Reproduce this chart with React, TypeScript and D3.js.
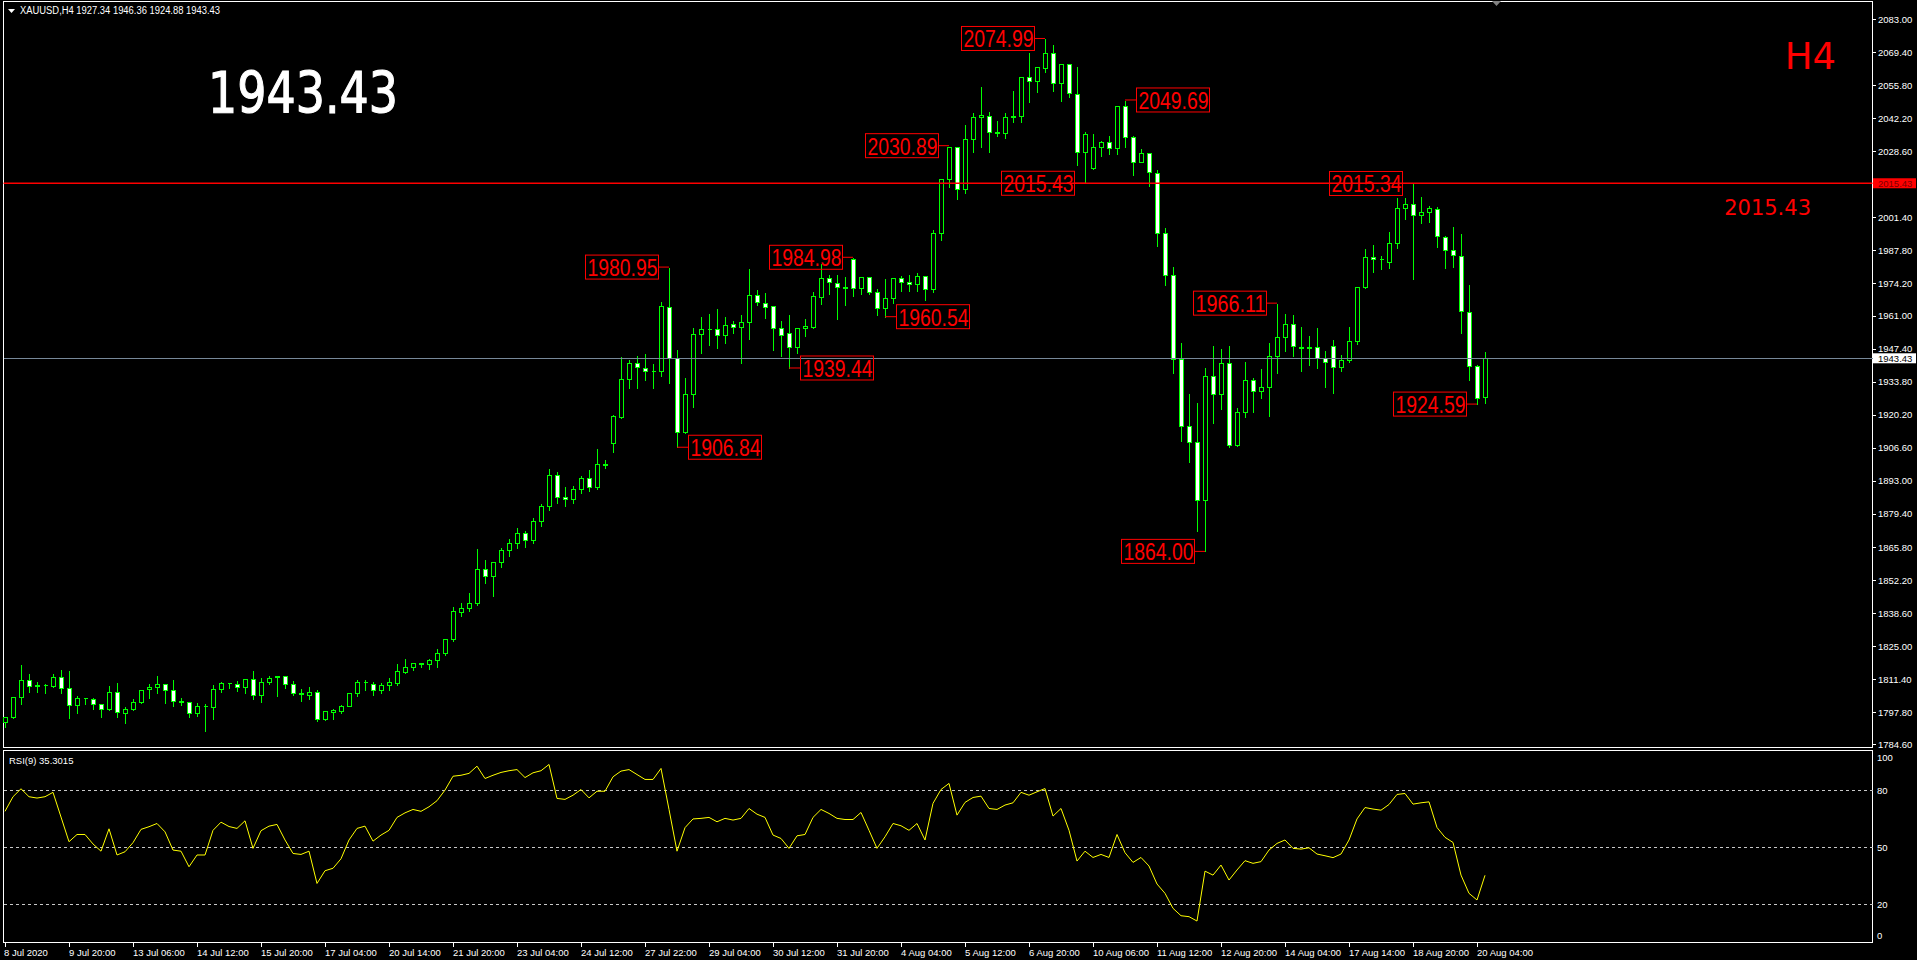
import React, { useMemo } from 'react';
import * as d3 from 'd3';

// XAUUSD H4, 186 bars (8 Jul 2020 .. 20 Aug 2020)
const OPEN = [
  1794.0, 1795.8, 1804.0, 1811.0, 1808.8, 1808.9, 1808.8, 1812.2, 1807.7, 1800.7,
  1803.6, 1803.4, 1801.1, 1799.1, 1806.0, 1797.4, 1799.1, 1801.9, 1807.3, 1808.1,
  1809.3, 1806.9, 1802.3, 1801.9, 1797.4, 1800.3, 1799.9, 1807.3, 1809.7, 1809.3,
  1808.4, 1811.4, 1804.8, 1810.2, 1812.6, 1812.6, 1809.3, 1805.6, 1805.1, 1806.0,
  1794.9, 1797.8, 1798.5, 1800.6, 1805.6, 1810.2, 1809.3, 1806.9, 1808.9, 1810.0,
  1814.5, 1816.3, 1818.0, 1817.6, 1819.2, 1822.0, 1827.8, 1839.2, 1840.6, 1842.7,
  1856.6, 1854.0, 1859.5, 1864.5, 1867.5, 1871.5, 1868.5, 1876.5, 1882.5, 1895.5,
  1886.5, 1885.5, 1889.5, 1894.0, 1890.5, 1899.6, 1908.5, 1919.4, 1934.8, 1941.4,
  1939.6, 1938.3, 1938.3, 1964.4, 1943.4, 1913.0, 1928.6, 1953.4, 1955.4, 1955.6,
  1952.9, 1957.4, 1956.2, 1958.2, 1969.3, 1966.0, 1964.9, 1955.8, 1953.7, 1948.2,
  1955.8, 1956.5, 1968.8, 1976.3, 1974.5, 1972.6, 1984.1, 1972.5, 1976.7, 1970.8,
  1964.0, 1968.1, 1976.3, 1974.9, 1974.0, 1977.4, 1971.8, 1994.8, 2017.1, 2030.5,
  2012.9, 2033.5, 2042.6, 2043.2, 2036.4, 2036.3, 2042.8, 2043.1, 2059.0, 2057.6,
  2062.7, 2068.9, 2056.5, 2064.4, 2052.2, 2028.2, 2021.9, 2030.2, 2032.3, 2029.8,
  2047.2, 2034.6, 2024.3, 2027.8, 2019.8, 1994.8, 1977.7, 1943.0, 1915.7, 1908.8,
  1885.1, 1936.2, 1928.7, 1941.3, 1907.7, 1921.4, 1934.7, 1929.9, 1931.7, 1944.5,
  1952.3, 1957.4, 1948.2, 1947.5, 1948.2, 1943.4, 1948.6, 1939.7, 1942.7, 1950.6,
  1972.6, 1985.2, 1984.1, 1983.2, 1990.7, 2005.1, 2006.9, 2002.4, 2003.5, 2004.7,
  1993.5, 1988.0, 1985.7, 1962.6, 1940.2, 1927.34,
];

const HIGH = [
  1796.0, 1804.5, 1817.7, 1814.1, 1810.7, 1809.9, 1814.0, 1815.6, 1815.2, 1804.9,
  1804.3, 1803.9, 1801.5, 1809.1, 1810.3, 1800.2, 1803.6, 1807.0, 1810.0, 1813.2,
  1809.7, 1811.5, 1804.0, 1802.2, 1801.9, 1801.8, 1809.5, 1810.7, 1810.4, 1811.1,
  1811.8, 1815.0, 1812.5, 1813.2, 1813.2, 1813.2, 1811.1, 1807.8, 1808.7, 1807.3,
  1798.8, 1799.5, 1801.2, 1806.2, 1811.4, 1811.4, 1810.7, 1810.3, 1812.4, 1818.1,
  1820.3, 1818.7, 1818.7, 1820.0, 1824.1, 1828.1, 1841.6, 1843.3, 1847.3, 1865.3,
  1860.9, 1859.8, 1866.0, 1869.5, 1874.0, 1873.0, 1878.0, 1884.0, 1898.2, 1897.0,
  1891.0, 1891.5, 1895.5, 1897.8, 1906.4, 1901.9, 1920.4, 1944.4, 1943.0, 1944.8,
  1945.5, 1941.6, 1967.0, 1980.95, 1947.1, 1935.6, 1956.2, 1960.8, 1962.2, 1964.0,
  1960.8, 1959.2, 1961.7, 1980.7, 1972.1, 1970.6, 1965.4, 1959.2, 1961.7, 1956.5,
  1960.2, 1971.1, 1982.5, 1978.1, 1978.1, 1977.3, 1984.98, 1977.3, 1977.3, 1972.2,
  1976.6, 1977.0, 1977.7, 1978.1, 1978.8, 1977.7, 1996.6, 2017.5, 2030.89, 2030.8,
  2039.8, 2044.8, 2055.5, 2045.3, 2041.5, 2044.6, 2053.8, 2059.6, 2069.6, 2063.7,
  2074.99, 2072.7, 2065.0, 2065.0, 2063.7, 2036.9, 2036.0, 2033.2, 2035.3, 2047.5,
  2049.69, 2035.3, 2030.1, 2028.0, 2021.3, 1997.3, 1981.4, 1950.1, 1929.0, 1925.3,
  1939.7, 1949.1, 1947.5, 1948.9, 1923.2, 1942.3, 1935.6, 1939.3, 1950.2, 1966.11,
  1961.9, 1961.5, 1956.7, 1953.0, 1956.4, 1946.8, 1951.2, 1945.4, 1956.7, 1973.2,
  1988.7, 1990.5, 1985.9, 1995.8, 2009.7, 2009.9, 2015.34, 2010.2, 2006.5, 2006.2,
  1994.2, 1997.9, 1995.1, 1974.0, 1941.0, 1946.36,
];

const LOW = [
  1791.9, 1795.4, 1801.2, 1806.3, 1806.3, 1805.6, 1808.4, 1805.6, 1795.4, 1797.4,
  1801.2, 1799.1, 1795.8, 1798.8, 1795.8, 1793.6, 1798.8, 1801.8, 1803.6, 1805.6,
  1801.8, 1800.2, 1800.7, 1795.8, 1796.3, 1790.3, 1794.9, 1806.3, 1807.7, 1806.7,
  1805.6, 1803.4, 1802.2, 1809.5, 1804.7, 1807.6, 1805.1, 1802.6, 1803.2, 1794.4,
  1794.6, 1795.2, 1797.7, 1800.2, 1804.7, 1807.0, 1804.9, 1805.9, 1807.0, 1809.1,
  1814.1, 1815.0, 1816.6, 1815.5, 1816.6, 1821.3, 1827.3, 1837.6, 1839.6, 1842.1,
  1850.9, 1845.8, 1857.5, 1862.0, 1865.5, 1866.0, 1867.5, 1874.5, 1881.0, 1884.0,
  1882.5, 1884.0, 1888.0, 1889.0, 1889.5, 1898.2, 1905.0, 1918.7, 1931.1, 1931.1,
  1934.5, 1931.4, 1936.2, 1933.4, 1906.84, 1912.6, 1923.3, 1945.8, 1948.9, 1947.5,
  1949.6, 1953.7, 1941.4, 1951.2, 1965.4, 1960.2, 1946.9, 1944.4, 1939.44, 1945.5,
  1952.6, 1955.8, 1965.8, 1969.9, 1959.6, 1965.4, 1969.2, 1969.9, 1969.9, 1961.3,
  1960.54, 1966.3, 1971.3, 1971.3, 1971.3, 1967.4, 1970.8, 1992.1, 2014.0, 2009.0,
  2011.6, 2028.4, 2030.2, 2028.4, 2035.0, 2034.2, 2040.8, 2040.8, 2049.0, 2053.1,
  2061.3, 2053.5, 2049.4, 2051.1, 2023.0, 2015.43, 2021.3, 2026.7, 2027.5, 2027.5,
  2030.5, 2018.8, 2024.0, 2014.5, 1989.8, 1973.6, 1937.5, 1909.4, 1900.9, 1872.5,
  1864.0, 1916.9, 1922.4, 1906.8, 1907.4, 1919.4, 1921.4, 1927.2, 1919.8, 1937.5,
  1946.5, 1944.3, 1938.3, 1940.6, 1939.3, 1931.7, 1929.3, 1938.3, 1942.0, 1949.5,
  1972.2, 1979.1, 1980.2, 1980.5, 1988.9, 2000.7, 1975.9, 1999.2, 1999.6, 1989.4,
  1980.4, 1981.1, 1953.7, 1934.5, 1924.59, 1924.88,
];

const CLOSE = [
  1795.8, 1804.0, 1811.0, 1808.8, 1808.9, 1809.1, 1812.2, 1807.7, 1800.7, 1803.6,
  1803.5, 1801.1, 1799.1, 1806.0, 1797.8, 1799.1, 1801.9, 1806.9, 1808.1, 1809.3,
  1806.9, 1802.3, 1802.1, 1797.4, 1800.3, 1800.2, 1807.3, 1809.7, 1809.8, 1808.4,
  1811.4, 1804.8, 1810.2, 1811.8, 1812.5, 1809.3, 1805.6, 1805.5, 1806.0, 1794.9,
  1798.2, 1798.8, 1800.3, 1805.8, 1810.2, 1810.4, 1806.9, 1809.1, 1810.2, 1814.7,
  1816.3, 1818.0, 1817.8, 1819.3, 1822.1, 1827.8, 1839.4, 1840.6, 1842.7, 1856.6,
  1854.0, 1859.5, 1864.5, 1867.5, 1871.5, 1868.5, 1876.5, 1882.5, 1895.5, 1886.5,
  1885.5, 1889.5, 1894.0, 1890.5, 1899.8, 1900.0, 1919.7, 1934.8, 1941.4, 1940.0,
  1938.2, 1938.2, 1965.0, 1943.4, 1913.0, 1928.6, 1953.4, 1955.4, 1955.6, 1952.9,
  1957.0, 1956.3, 1958.2, 1969.3, 1966.6, 1964.7, 1955.8, 1953.0, 1948.2, 1955.8,
  1956.7, 1969.1, 1976.3, 1974.7, 1972.6, 1972.5, 1972.5, 1976.7, 1970.8, 1964.0,
  1968.1, 1976.3, 1974.9, 1974.0, 1977.4, 1971.8, 1994.8, 2017.1, 2030.5, 2012.9,
  2033.5, 2042.6, 2043.4, 2036.4, 2036.3, 2042.8, 2043.1, 2059.0, 2057.6, 2063.1,
  2068.9, 2056.5, 2064.4, 2052.4, 2028.2, 2035.6, 2030.2, 2032.3, 2029.8, 2047.2,
  2034.6, 2024.3, 2027.8, 2020.2, 1994.8, 1977.7, 1943.0, 1915.7, 1908.8, 1885.1,
  1936.2, 1928.7, 1941.3, 1907.7, 1921.4, 1934.7, 1929.9, 1931.7, 1944.5, 1952.3,
  1957.4, 1948.5, 1947.5, 1948.2, 1943.4, 1941.7, 1939.7, 1942.7, 1950.6, 1972.6,
  1985.2, 1984.1, 1984.2, 1990.7, 2005.1, 2006.9, 2002.4, 2003.5, 2005.1, 1993.7,
  1988.0, 1985.9, 1962.9, 1940.2, 1927.3, 1943.43,
];

// RSI(9)
const RSI = [
  69, 76.7, 80.9, 76.7, 76, 76.7, 79, 66, 53, 56.8,
  56.8, 51.8, 48, 59.8, 46, 47.7, 52.5, 59.5, 60.9, 62.6,
  58.2, 48.6, 48, 39.8, 46, 46, 59, 63.3, 61, 60,
  64, 49.5, 58.8, 61.2, 62.1, 53.9, 46.8, 46.3, 48, 31,
  37.7, 39, 44, 53.9, 60, 61.2, 53.3, 56.5, 59, 65.8,
  68.2, 70, 69, 71.4, 74.6, 80.2, 87.5, 88, 89, 92.8,
  86.3, 88, 89.5, 90.4, 91, 86.8, 89.3, 90.4, 93.7, 75.8,
  75.3, 77.5, 80.5, 76.1, 79.6, 79.6, 87.2, 90.2, 91, 88.4,
  85.8, 85.8, 91.6, 70, 48, 60.4, 65, 65.3, 65.8, 63.5,
  65.3, 64.4, 65.3, 70.5, 67.5, 65.8, 56.5, 54.7, 49.5, 56.1,
  56.8, 65.8, 70, 67.9, 65.3, 64.7, 64.7, 68.4, 59, 49.5,
  55.6, 62.6, 61.4, 59, 62.6, 53.9, 73.2, 80.5, 83.7, 67,
  73.7, 76.3, 77, 70.5, 70, 72.3, 73.5, 79, 77.5, 79.3,
  81, 66.5, 70.5, 59, 42.8, 48, 44.7, 46.3, 44.7, 56.8,
  47.2, 42.1, 44.7, 40.2, 30.7, 25.8, 17.9, 14, 13.5, 11.2,
  37.5, 35.4, 40.7, 32.8, 38.1, 43, 41.6, 42.5, 48.6, 52.1,
  53.9, 49.5, 49.1, 49.8, 46.5, 45.6, 44.6, 46.5, 53.9, 65,
  71, 70.2, 69.6, 72.6, 77.9, 78.4, 72.8, 73.5, 74, 60.5,
  55.3, 52.6, 35.4, 25.8, 22.3, 35.3,
];

const PRICE_TICKS = [
  2083.0, 2069.4, 2055.8, 2042.2, 2028.6, 2001.4, 1987.8, 1974.2, 1961.0, 1947.4,
  1933.8, 1920.2, 1906.6, 1893.0, 1879.4, 1865.8, 1852.2, 1838.6, 1825.0, 1811.4,
  1797.8, 1784.6,
];

const TIME_LABELS = [
  '8 Jul 2020', '9 Jul 20:00', '13 Jul 06:00', '14 Jul 12:00', '15 Jul 20:00',
  '17 Jul 04:00', '20 Jul 14:00', '21 Jul 20:00', '23 Jul 04:00', '24 Jul 12:00',
  '27 Jul 22:00', '29 Jul 04:00', '30 Jul 12:00', '31 Jul 20:00', '4 Aug 04:00',
  '5 Aug 12:00', '6 Aug 20:00', '10 Aug 06:00', '11 Aug 12:00', '12 Aug 20:00',
  '14 Aug 04:00', '17 Aug 14:00', '18 Aug 20:00', '20 Aug 04:00',
];
const TIME_LABEL_STEP = 8; // bars between labels

const RSI_LEVELS = [80, 50, 20];

// swing high/low tags drawn on the chart
const MARK_PRICES = [1980.95, 1906.84, 1939.44, 1984.98, 1960.54, 2030.89, 2074.99, 2015.43, 2049.69, 1864.0, 1966.11, 2015.34, 1924.59];
const MARK_BARS = [83, 84, 98, 106, 110, 118, 130, 135, 140, 150, 159, 176, 184];
const MARK_SIDES = ['l', 'r', 'r', 'l', 'r', 'l', 'l', 'l', 'r', 'l', 'l', 'l', 'l'];

const LEVEL_LINE = 2015.43;
const BID = 1943.43;
const HEADER = 'XAUUSD,H4  1927.34 1946.36 1924.88 1943.43';

const W = 1917;
const H = 960;
const LEFT = 3.5;
const AXIS = 1872.5;
const MAIN_BOTTOM = 747.5;
const RSI_TOP = 750.5;
const RSI_BOTTOM = 942.5;
const GREEN = '#00ff00';
const AXIS_FONT = '"Liberation Sans", Arial, sans-serif';

const px = (v: number) => Math.round(v) + 0.5;

function App() {
  const n = OPEN.length;
  const x = useMemo(() => d3.scaleLinear().domain([0, n - 1]).range([5, 5 + 8 * (n - 1)]), [n]);
  const y = useMemo(() => d3.scaleLinear().domain([1784.6, 2083]).range([744.4, 19]), []);
  const ry = useMemo(() => d3.scaleLinear().domain([0, 100]).range([942.3, 752.5]), []);

  const rsiPath = d3
    .line<number>()
    .x((_, i) => x(i))
    .y((d) => ry(d))(RSI);

  return (
    <div style={{ width: W, height: H, background: '#000' }}>
      <style>{'body{margin:0;background:#000;overflow:hidden}'}</style>
      <svg width={W} height={H} style={{ display: 'block' }}>
        <rect width={W} height={H} fill="#000" />

        {/* pane frames */}
        <g stroke="#fff" fill="none" strokeWidth={1} shapeRendering="crispEdges">
          <rect x={LEFT} y={1.5} width={AXIS - LEFT} height={MAIN_BOTTOM - 1.5} />
          <rect x={LEFT} y={RSI_TOP} width={AXIS - LEFT} height={RSI_BOTTOM - RSI_TOP} />
        </g>

        {/* header */}
        <path d="M8,9 L15,9 L11.5,13 Z" fill="#fff" />
        <text x={20} y={14} fill="#fff" fontFamily={AXIS_FONT} fontSize={10} textLength={200} lengthAdjust="spacingAndGlyphs">
          {HEADER}
        </text>
        <path d="M1492,1 L1501,1 L1496.5,6 Z" fill="#808080" />

        {/* candles */}
        <g shapeRendering="crispEdges">
          {OPEN.map((o, i) => {
            const c = CLOSE[i];
            const cx = px(x(i));
            const top = px(y(Math.max(o, c)));
            const bot = px(y(Math.min(o, c)));
            const bull = c >= o;
            return (
              <g key={`c${i}`}>
                <line x1={cx} x2={cx} y1={px(y(HIGH[i]))} y2={px(y(LOW[i]))} stroke={GREEN} />
                {bot - top < 1 ? (
                  <line x1={cx - 2} x2={cx + 2} y1={top} y2={top} stroke={GREEN} strokeWidth={1} />
                ) : (
                  <rect x={cx - 2} y={top} width={4} height={bot - top} fill={bull ? '#000' : '#fff'} stroke={GREEN} />
                )}
              </g>
            );
          })}
        </g>

        {/* horizontal lines */}
        <line x1={LEFT} x2={AXIS} y1={y(LEVEL_LINE)} y2={y(LEVEL_LINE)} stroke="#ff0000" strokeWidth={1.6} />
        <line x1={LEFT} x2={AXIS} y1={px(y(BID))} y2={px(y(BID))} stroke="#778899" strokeWidth={1} shapeRendering="crispEdges" />

        {/* swing tags */}
        <g>
          {MARK_PRICES.map((p, k) => {
            const cx = x(MARK_BARS[k]);
            const cy = y(p);
            const left = MARK_SIDES[k] === 'l';
            const bx = left ? cx - 10 - 74 : cx + 11;
            return (
              <g key={`m${k}`}>
                <line x1={left ? bx + 74 : bx} x2={cx} y1={cy} y2={cy} stroke="#ff0000" strokeWidth={1} />
                <rect x={bx + 0.5} y={cy - 12} width={73} height={24} fill="none" stroke="#ff0000" strokeWidth={1} />
                <text
                  x={bx + 2.5}
                  y={cy + 9}
                  fill="#ff0000"
                  fontSize={24}
                  fontFamily='"Liberation Sans Narrow", "Liberation Sans", Arial, sans-serif'
                  textLength={70}
                  lengthAdjust="spacingAndGlyphs"
                >
                  {p.toFixed(2)}
                </text>
              </g>
            );
          })}
        </g>

        {/* big on-chart texts */}
        <text
          x={208}
          y={113}
          fill="#fff"
          stroke="#fff"
          strokeWidth={1.2}
          fontSize={57}
          fontFamily='"DejaVu Sans", sans-serif'
          textLength={190}
          lengthAdjust="spacingAndGlyphs"
        >
          {BID.toFixed(2)}
        </text>
        <text x={1836} y={68.5} fill="#ff0000" fontSize={37} fontFamily='"DejaVu Sans", sans-serif' textAnchor="end">
          H4
        </text>
        <text x={1811} y={215} fill="#ff0000" fontSize={21} fontFamily='"DejaVu Sans", sans-serif' textAnchor="end">
          {LEVEL_LINE.toFixed(2)}
        </text>

        {/* price axis */}
        <g fontFamily={AXIS_FONT} fontSize={9.5} fill="#fff">
          {PRICE_TICKS.map((t) => (
            <g key={`t${t}`}>
              <line x1={AXIS} x2={AXIS + 3} y1={px(y(t))} y2={px(y(t))} stroke="#fff" shapeRendering="crispEdges" />
              <text x={1878} y={y(t) + 3.5}>
                {t.toFixed(2)}
              </text>
            </g>
          ))}
        </g>
        <g fontFamily={AXIS_FONT} fontSize={9.5}>
          <rect x={1873} y={y(LEVEL_LINE) - 5} width={43} height={10} fill="#ff0000" />
          <text x={1878} y={y(LEVEL_LINE) + 3.5} fill="#7a0000">
            {LEVEL_LINE.toFixed(2)}
          </text>
          <rect x={1873} y={y(BID) - 5} width={43} height={10} fill="#fff" />
          <text x={1878} y={y(BID) + 3.5} fill="#000">
            {BID.toFixed(2)}
          </text>
        </g>

        {/* RSI pane */}
        <g stroke="#c8c8c8" strokeDasharray="3 3" shapeRendering="crispEdges">
          {RSI_LEVELS.map((lv) => (
            <line key={`lv${lv}`} x1={LEFT} x2={AXIS} y1={px(ry(lv))} y2={px(ry(lv))} />
          ))}
        </g>
        <path d={rsiPath || ''} fill="none" stroke="#ffff00" strokeWidth={1} />
        <text x={9} y={764} fill="#fff" fontFamily={AXIS_FONT} fontSize={9.5}>
          RSI(9) 35.3015
        </text>
        <g fontFamily={AXIS_FONT} fontSize={9.5} fill="#fff">
          <text x={1877} y={760.5}>100</text>
          {RSI_LEVELS.map((lv) => (
            <text key={`rl${lv}`} x={1877} y={ry(lv) + 3.5}>
              {lv}
            </text>
          ))}
          <text x={1877} y={939}>0</text>
        </g>

        {/* time axis */}
        <g fontFamily={AXIS_FONT} fontSize={9.5} fill="#fff">
          {TIME_LABELS.map((lb, k) => {
            const tx = px(x(k * TIME_LABEL_STEP));
            return (
              <g key={`x${k}`}>
                <line x1={tx} x2={tx} y1={RSI_BOTTOM} y2={RSI_BOTTOM + 4} stroke="#fff" shapeRendering="crispEdges" />
                <text x={tx - (k === 0 ? 1.5 : 0.5)} y={955.5}>
                  {lb}
                </text>
              </g>
            );
          })}
        </g>
      </svg>
    </div>
  );
}

export default App;
